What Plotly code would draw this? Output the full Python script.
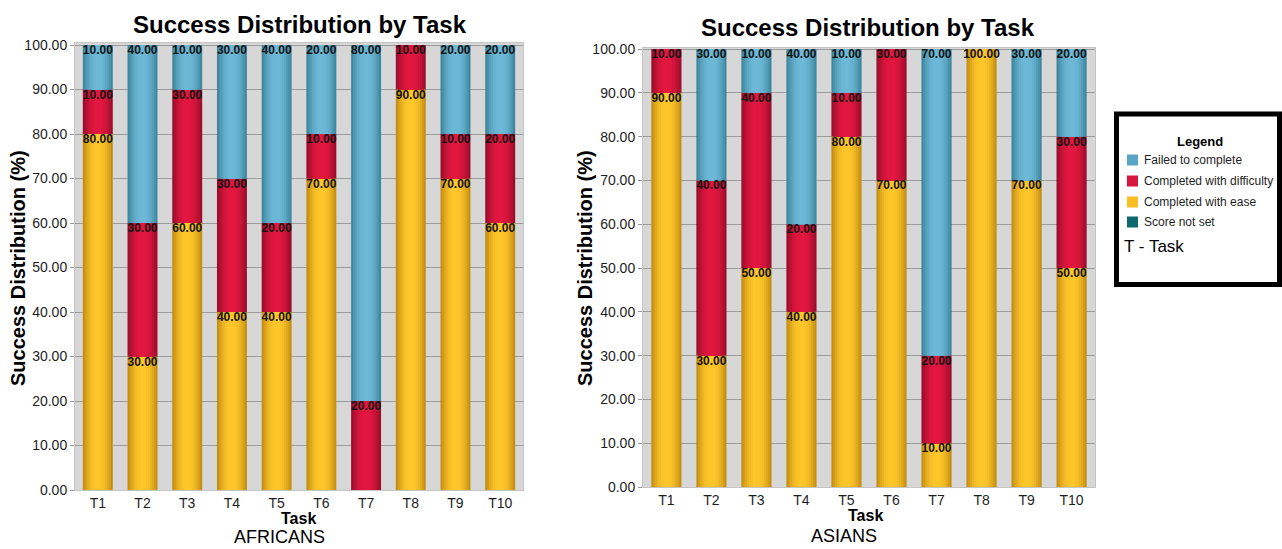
import plotly.graph_objects as go

# ---- data -------------------------------------------------------------
tasks = ["T1", "T2", "T3", "T4", "T5", "T6", "T7", "T8", "T9", "T10"]

africans_ease = [80, 30, 60, 40, 40, 70, 0, 90, 70, 60]
africans_difficulty = [10, 30, 30, 30, 20, 10, 20, 10, 10, 20]
africans_failed = [10, 40, 10, 30, 40, 20, 80, 0, 20, 20]

asians_ease = [90, 30, 50, 40, 80, 70, 10, 100, 70, 50]
asians_difficulty = [10, 40, 40, 20, 10, 30, 20, 0, 0, 30]
asians_failed = [0, 30, 10, 40, 10, 0, 70, 0, 30, 20]

legend_labels = ["Failed to complete", "Completed with difficulty",
                 "Completed with ease", "Score not set"]

# ---- styling ----------------------------------------------------------
FIG_W, FIG_H = 1282, 549
BAR_W = 0.67
N_SHADES = 8
FONT = "Liberation Sans, Arial, sans-serif"

# (edge colour, centre colour) for the cylinder shading of each category
SHADES = {
    "ease": ("#c48f12", "#ffc62a"),
    "difficulty": ("#9c0e2c", "#e2173f"),
    "failed": ("#3f879f", "#6cb8d6"),
}
SWATCH = ["#5ba6c7", "#d8153e", "#fbbf22", "#0e6a6e"]


def px(x):
    return x / FIG_W


def py(y):
    return 1 - y / FIG_H


def hex_to_rgb(h):
    h = h.lstrip("#")
    return tuple(int(h[i:i + 2], 16) for i in (0, 2, 4))


def mix(c1, c2, t):
    a, b = hex_to_rgb(c1), hex_to_rgb(c2)
    return "rgb({},{},{})".format(*[round(a[i] + (b[i] - a[i]) * t) for i in range(3)])


fig = go.Figure()


def add_panel(ease, difficulty, failed, xa, ya):
    xs = list(range(len(tasks)))
    segments = [("ease", ease), ("difficulty", difficulty), ("failed", failed)]
    base = [0] * len(tasks)
    label_x, label_y, label_t = [], [], []
    for key, vals in segments:
        edge, centre = SHADES[key]
        for k in range(N_SHADES):
            f = k / (N_SHADES - 1)
            t = (1 - (1 - f) ** 2)
            fig.add_trace(go.Bar(
                x=xs, y=vals, base=list(base),
                width=BAR_W * (1 - k / N_SHADES),
                marker=dict(color=mix(edge, centre, t), line=dict(width=0)),
                xaxis=xa, yaxis=ya, showlegend=False, hoverinfo="skip",
            ))
        for i, v in enumerate(vals):
            if v > 0:
                label_x.append(i)
                label_y.append(base[i] + v)
                label_t.append(f"{v:.2f}")
        base = [b + v for b, v in zip(base, vals)]
    fig.add_trace(go.Scatter(
        x=label_x, y=label_y, text=label_t, mode="text",
        textposition="bottom center",
        textfont=dict(family=FONT, size=12, color="#141414", weight="bold"),
        xaxis=xa, yaxis=ya, showlegend=False, hoverinfo="skip",
    ))


add_panel(africans_ease, africans_difficulty, africans_failed, "x", "y")
add_panel(asians_ease, asians_difficulty, asians_failed, "x2", "y2")

axis_common = dict(
    showline=True, linecolor="#c4c4c4", linewidth=1, mirror=True,
    automargin=False, zeroline=False,
    tickfont=dict(family=FONT, size=14, color="#1e1e1e"),
)
x_common = dict(axis_common, tickmode="array", tickvals=list(range(len(tasks))),
                ticktext=tasks, ticks="", showgrid=False)
y_common = dict(axis_common, tickmode="linear", tick0=0, dtick=10, tickformat=".2f",
                ticks="outside", ticklen=4, tickcolor="#9a9a9a",
                showgrid=True, gridcolor="#9c9c9c", gridwidth=1)

fig.update_layout(
    width=FIG_W, height=FIG_H,
    margin=dict(l=0, r=0, t=0, b=0),
    paper_bgcolor="white", plot_bgcolor="#d7d7d7",
    barmode="overlay", showlegend=False,
    xaxis=dict(x_common, domain=[px(75), px(523)], range=[-0.51, 9.51], anchor="y"),
    yaxis=dict(y_common, domain=[py(490), py(43)], range=[0, 100.45], anchor="x"),
    xaxis2=dict(x_common, domain=[px(643), px(1095)], range=[-0.52, 9.52], anchor="y2"),
    yaxis2=dict(y_common, domain=[py(487), py(48)], range=[0, 100.23], anchor="x2"),
)


def note(text, x, y, size, bold=False, angle=0, xanchor="center", color="#000000"):
    fig.add_annotation(
        text=text, x=px(x), y=py(y), xref="paper", yref="paper",
        xanchor=xanchor, yanchor="middle", showarrow=False, textangle=angle,
        font=dict(family=FONT, size=size, color=color, weight="bold" if bold else "normal"),
    )


# panel titles and axis labels
note("Success Distribution by Task", 300, 25, 24, bold=True)
note("Success Distribution by Task", 868, 27, 24, bold=True)
note("Success Distribution (%)", 18, 268, 20, bold=True, angle=-90)
note("Success Distribution (%)", 585, 268, 20, bold=True, angle=-90)
note("Task", 298, 518, 16, bold=True)
note("Task", 865, 515, 16, bold=True)
note("AFRICANS", 279, 537, 18)
note("ASIANS", 844, 536, 18)

# legend box
fig.add_shape(type="rect", xref="paper", yref="paper",
              x0=px(1116.5), x1=px(1279.5), y0=py(284.5), y1=py(114),
              line=dict(color="black", width=5), fillcolor="white")
note("Legend", 1200, 141, 13, bold=True)
row_y = [160, 181, 202, 222]
for label, colour, yy in zip(legend_labels, SWATCH, row_y):
    fig.add_shape(type="rect", xref="paper", yref="paper",
                  x0=px(1127), x1=px(1138), y0=py(yy + 5.5), y1=py(yy - 5.5),
                  line=dict(width=0), fillcolor=colour)
    note(label, 1142, yy, 12, xanchor="left", color="#1e1e1e")
note("T - Task", 1122, 246, 17, xanchor="left")

fig.write_html("out.html")
